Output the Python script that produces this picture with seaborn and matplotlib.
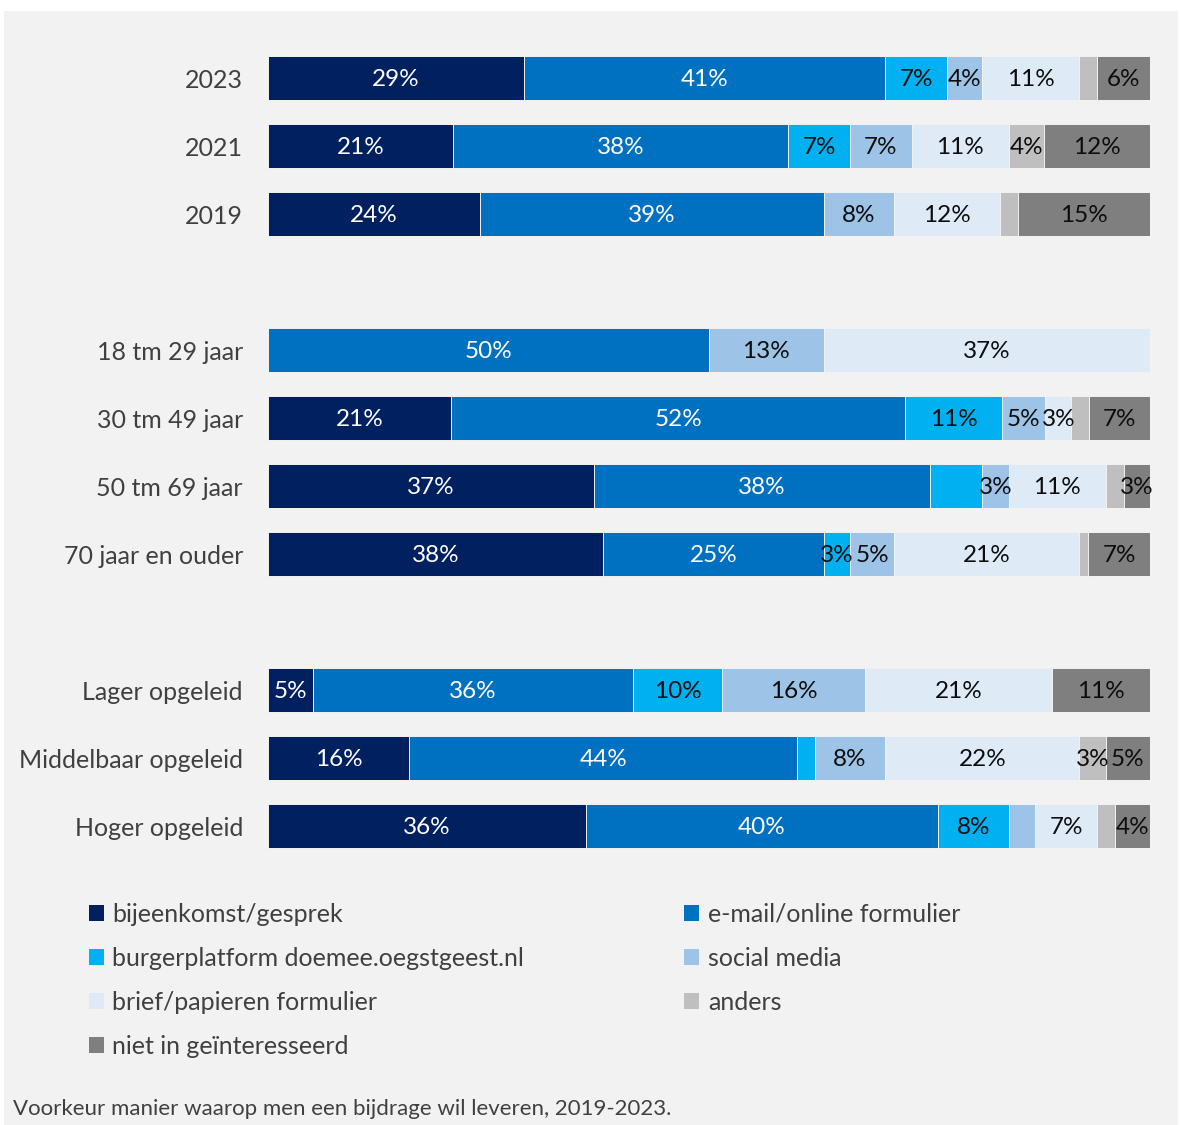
import matplotlib
matplotlib.use("Agg")
import matplotlib.pyplot as plt
from matplotlib.patches import Patch, Rectangle
import numpy as np
import pandas as pd
import seaborn as sns

# Row labels, in three groups (years, age, education)
groups = [
    ["2023", "2021", "2019"],
    ["18 tm 29 jaar", "30 tm 49 jaar", "50 tm 69 jaar", "70 jaar en ouder"],
    ["Lager opgeleid", "Middelbaar opgeleid", "Hoger opgeleid"],
]

options = [
    "bijeenkomst/gesprek",
    "e-mail/online formulier",
    "burgerplatform doemee.oegstgeest.nl",
    "social media",
    "brief/papieren formulier",
    "anders",
    "niet in geïnteresseerd",
]

# Percentages per row, one list per answer option
bijeenkomst = [29, 21, 24, 0, 21, 37, 38, 5, 16, 36]
email = [41, 38, 39, 50, 52, 38, 25, 36, 44, 40]
burgerplatform = [7, 7, 0, 0, 11, 6, 3, 10, 2, 8]
social = [4, 7, 8, 13, 5, 3, 5, 16, 8, 3]
brief = [11, 11, 12, 37, 3, 11, 21, 21, 22, 7]
anders = [2, 4, 2, 0, 2, 2, 1, 0, 3, 2]
niet = [6, 12, 15, 0, 7, 3, 7, 11, 5, 4]

series = [bijeenkomst, email, burgerplatform, social, brief, anders, niet]
colors = ["#002060", "#0070c0", "#00b0f0", "#9dc3e6", "#deebf7", "#bfbfbf", "#7f7f7f"]
text_colors = ["white", "white", "#0d0d0d", "#0d0d0d", "#0d0d0d", "#0d0d0d", "#0d0d0d"]
# segments that carry no value label
unlabeled = {("50 tm 69 jaar", "burgerplatform doemee.oegstgeest.nl"),
             ("Hoger opgeleid", "social media")}

categories = [c for g in groups for c in g]
positions = []
slot = 0
for g in groups:
    for _ in g:
        positions.append(slot)
        slot += 1
    slot += 1

vals = np.array(series, dtype=float)          # options x rows
share = vals / vals.sum(axis=0) * 100         # 100% stacked
cum = np.cumsum(share, axis=0)
start = cum - share

rows = []
for i, opt in enumerate(options):
    for j, cat in enumerate(categories):
        rows.append(dict(option=opt, category=cat, pos=positions[j],
                         value=vals[i, j], left=start[i, j], right=cum[i, j]))
df = pd.DataFrame(rows)

sns.set_theme(style="white")
plt.rcParams["font.family"] = ["Lato", "DejaVu Sans"]

fig = plt.figure(figsize=(11.8, 11.25), dpi=100)
fig.patch.set_facecolor("white")
fig.patches.append(Rectangle((4 / 1180, 0), 1174 / 1180, 1114 / 1125,
                             transform=fig.transFigure, facecolor="#f2f2f2",
                             edgecolor="none", zorder=-10))

ax = fig.add_axes([268 / 1180, (1125 - 860) / 1125, 882 / 1180, 816 / 1125])
ax.set_facecolor("none")

# Draw cumulative bars from the last option backwards so each one covers the next
for i in reversed(range(len(options))):
    sub = df[df["option"] == options[i]]
    sns.barplot(data=sub, x="right", y="pos", orient="y", native_scale=True,
                color=colors[i], width=0.66, errorbar=None, ax=ax,
                edgecolor="#f2f2f2", linewidth=0.7, saturation=1)

for _, r in df.iterrows():
    i = options.index(r["option"])
    if r["value"] < 3 or (r["category"], r["option"]) in unlabeled:
        continue
    ax.text((r["left"] + r["right"]) / 2, r["pos"] + 0.02, f"{int(r['value'])}%",
            ha="center", va="center", fontsize=17.5, color=text_colors[i])

ax.set_xlim(0, 100)
ax.set_ylim(11.5, -0.5)
ax.set_yticks(positions)
ax.set_yticklabels(categories, fontsize=18, color="#404040")
ax.tick_params(axis="y", length=0, pad=18)
ax.set_xticks([])
ax.set_xlabel("")
ax.set_ylabel("")
sns.despine(ax=ax, left=True, bottom=True)

# Two-column legend read row by row
order = [0, 2, 4, 6, 1, 3, 5]
handles = [Patch(facecolor=colors[k], edgecolor="none", label=options[k]) for k in order]
leg = fig.legend(handles=handles, ncol=2, loc="upper left",
                 bbox_to_anchor=(66 / 1180, 1 - 880 / 1125), frameon=False,
                 fontsize=18, handlelength=0.6, handleheight=0.6,
                 handletextpad=0.35, columnspacing=6.4, labelspacing=0.84,
                 labelcolor="#404040")

fig.text(13 / 1180, 1 - 1109 / 1125,
         "Voorkeur manier waarop men een bijdrage wil leveren, 2019-2023.",
         ha="left", va="center", fontsize=16, color="#404040")

fig.savefig("out.png", dpi=100, facecolor=fig.get_facecolor())
